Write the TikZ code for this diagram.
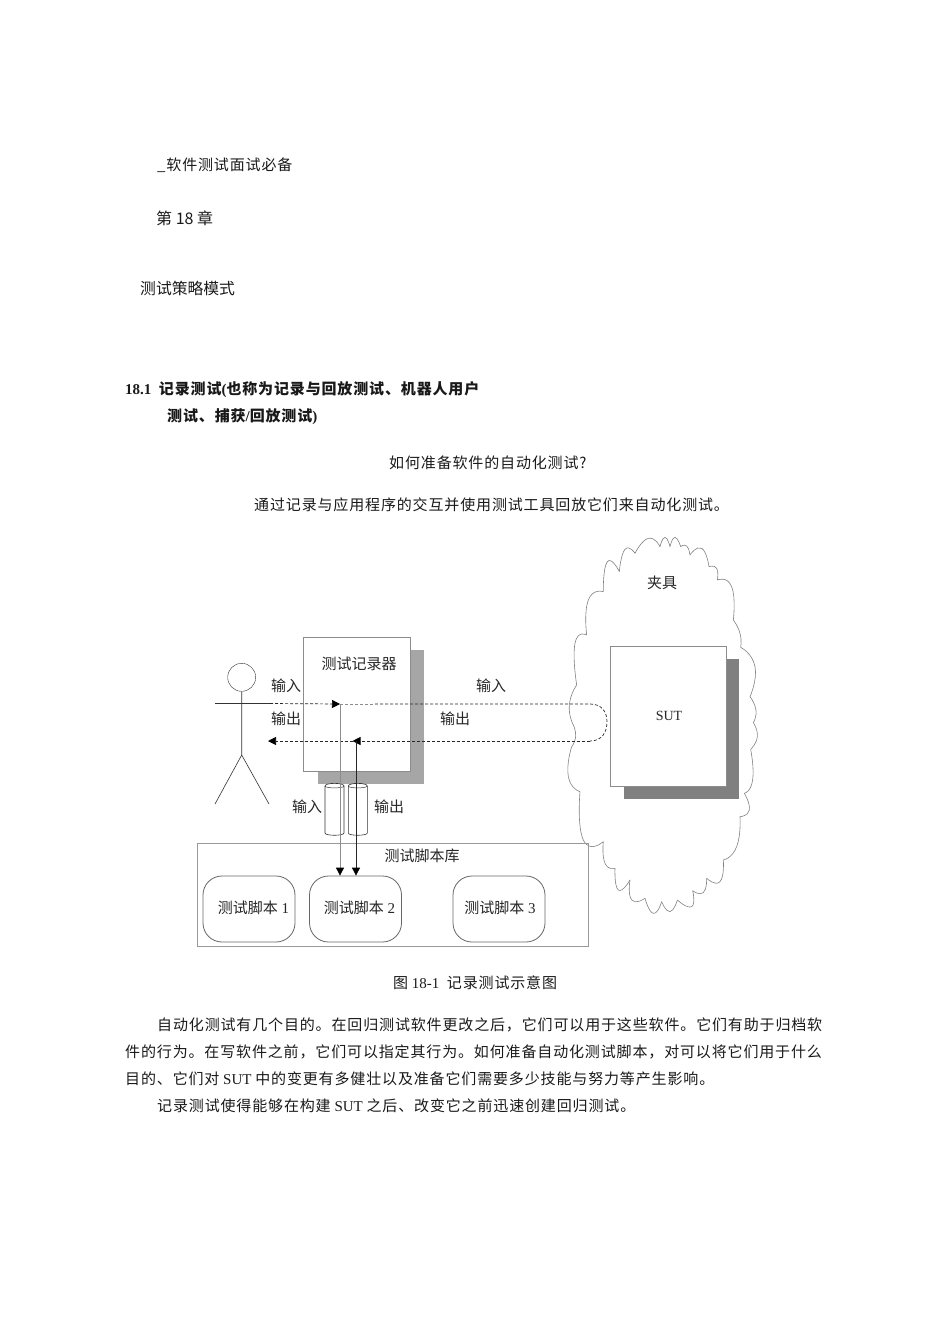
\documentclass[tikz,border=0pt]{standalone}
\usepackage{fontspec}
\setmainfont{Liberation Serif}
\newfontfamily\zhfont{Noto Sans CJK SC}
\newfontfamily\zhwide[LetterSpace=5.7]{Noto Sans CJK SC}
\usetikzlibrary{arrows.meta}
\tikzset{
  boxline/.style={draw=black!45,line width=.8pt},
  script/.style={boxline,draw=black!60,rounded corners=19pt,minimum width=92pt,minimum height=66pt},
  label/.style={inner sep=0pt,yshift=-.8pt,text=black!85,font=\fontsize{15}{15}\zhfont},
  body/.style={inner sep=0pt,yshift=-.8pt,anchor=west,text=black!90,font=\fontsize{15}{15}\selectfont},
  tip/.style={-{Triangle[length=8pt,width=8pt,black]}},
  flow/.style={dash pattern=on 3pt off 2pt,line width=.7pt,black!85}
}
\begin{document}
\begin{tikzpicture}[x=1pt,y=-1pt]
\useasboundingbox (0,0) rectangle (950,1323);
% page text
\node[body] (runhead) at (157,164) {\zhwide\_软件测试面试必备};
\node[body,font=\fontsize{16}{16}\zhfont] (chapter) at (156,218) {第 18 章};
\node[body,font=\fontsize{15.8}{16}\zhfont] (title) at (140,288) {测试策略模式};
\node[body,font=\fontsize{15}{15}\bfseries] (secone) at (125,388.5) {18.1\ \ {\zhwide 记录测试}({\zhwide 也称为记录与回放测试、机器人用户}};
\node[body,font=\fontsize{15}{15}\bfseries] (sectwo) at (167,416) {{\zhwide 测试、捕获}/{\zhwide 回放测试})};
\node[body] (question) at (389,462) {\zhwide 如何准备软件的自动化测试?};
\node[body] (answer) at (254,504) {\zhwide 通过记录与应用程序的交互并使用测试工具回放它们来自动化测试。};
\node[body] (caption) at (393,982) {{\zhwide 图} 18-1\ \ {\zhwide 记录测试示意图}};
\node[body] (paraone) at (157,1024) {\zhwide 自动化测试有几个目的。在回归测试软件更改之后，它们可以用于这些软件。它们有助于归档软};
\node[body] (paratwo) at (125,1051) {\zhwide 件的行为。在写软件之前，它们可以指定其行为。如何准备自动化测试脚本，对可以将它们用于什么};
\node[body] (parathree) at (125,1078) {{\zhwide 目的、它们对} SUT {\zhwide 中的变更有多健壮以及准备它们需要多少技能与努力等产生影响。}};
\node[body] (parafour) at (157,1105) {{\zhwide 记录测试使得能够在构建} SUT {\zhwide 之后、改变它之前迅速创建回归测试。}};
% cloud
\begin{scope}[shift={(560,530)},x=.3333pt,y=-.3333pt]
\foreach \ax/\ay/\mx/\my/\bx/\by in {130/185/142/95/178/125,178/125/195/58/225/70,225/70/265/25/300/50,
  300/50/315/22/330/50,330/50/345/22/362/50,362/50/380/48/390/75,390/75/425/55/447/110,447/110/470/115/472/150,
  472/150/515/170/520/270,520/270/540/310/542/352,542/352/585/410/570/500,570/500/588/540/580/578,
  580/578/592/620/572/658,572/658/578/750/553/790,553/790/568/840/540/860,540/860/530/950/490/990,
  490/990/480/1055/440/1045,440/1045/430/1088/398/1082,398/1082/395/1130/352/1110,352/1110/330/1145/305/1115,
  305/1115/280/1150/255/1105,255/1105/215/1110/210/1050,210/1050/175/1080/165/1015,165/1015/135/1000/130/935,
  130/935/70/930/60/785,60/785/25/740/35/650,35/650/47/620/40/585,40/585/28/525/50/465,
  50/465/45/340/80/315,80/315/85/210/130/185}{%
  \draw[black!50,line width=.6pt] plot[smooth,tension=1] coordinates {(\ax,\ay) (\mx,\my) (\bx,\by)};
}
\end{scope}
\node[label] (fixture) at (662,582) {夹具};
% shadows and boxes
\fill[black!35] (318,650) rectangle (424,784);
\fill[black!50] (624,659) rectangle (739,799);
\node[boxline,fill=white,minimum width=107.5pt,minimum height=133.5pt] (recorder) at (356.7,704.2) {};
\node[label] (recordername) at (359,663) {测试记录器};
\node[boxline,fill=white,minimum width=115.5pt,minimum height=140pt] (sut) at (668.2,716) {};
\node[inner sep=0pt,text=black!85,font=\fontsize{14}{14}\selectfont] (sutname) at (669,716) {SUT};
% repository and scripts
\node[boxline,draw=black!40,minimum width=390.5pt,minimum height=103pt] (repo) at (392.7,894.5) {};
\node[label] (repolabel) at (422,855) {测试脚本库};
\node[script] (scriptone) at (249,909) {};
\node[script] (scripttwo) at (355.5,909) {};
\node[script] (scriptthree) at (499,909) {};
\node[label,font=\fontsize{15}{15}\selectfont] at (253.5,907) {{\zhfont 测试脚本} 1};
\node[label,font=\fontsize{15}{15}\selectfont] at (359.5,907) {{\zhfont 测试脚本} 2};
\node[label,font=\fontsize{15}{15}\selectfont] at (500,907) {{\zhfont 测试脚本} 3};
% pipes
\foreach \px in {334.5,357.8}{%
  \draw[black!80,fill=white,line width=.6pt] (\px-9.5,786) -- (\px-9.5,833) .. controls (\px-9.5,836) and (\px+9.5,836) .. (\px+9.5,833) -- (\px+9.5,786)
    .. controls (\px+9.5,782.5) and (\px-9.5,782.5) .. cycle;
  \draw[black!80,line width=.5pt] (\px-9.5,786) .. controls (\px-9.5,788.5) and (\px+9.5,788.5) .. (\px+9.5,786);
}
% person
\node[draw=black!80,circle,minimum size=28pt,inner sep=0pt] (head) at (241.7,677.3) {};
\coordinate (hip) at (241.7,755);
\coordinate (armleft) at (215,703.5);
\coordinate (armright) at (270,703.5);
\coordinate (footleft) at (215,804);
\coordinate (footright) at (269,804);
\draw[black!80,line width=.6pt] (head) -- (hip) (footleft) -- (hip) -- (footright) (armleft) -- (armright);
% flows
\coordinate (intip) at (340,704);
\coordinate (infade) at (375,704);
\coordinate (inend) at (590,704);
\coordinate (outstart) at (590,741);
\coordinate (outtip) at (352.5,741);
\coordinate (outdrop) at (356,741);
\coordinate (outend) at (268,741);
\draw[flow,tip] (armright) -- (intip);
\draw[flow,black!45] (intip) -- (infade);
\draw[flow] (infade) -- (inend) .. controls (602,704) and (607,712) .. (607,722) .. controls (607,732) and (602,741) .. (outstart);
\draw[flow,tip] (outstart) -- (outtip);
\draw[flow,tip] (outtip) -- (outend);
\draw[black!45,line width=.8pt,tip] (intip) -- (intip |- scripttwo.north);
\draw[black!85,line width=.8pt,tip] (outdrop) -- (outdrop |- scripttwo.north);
% labels on the flows
\node[label] (inleft) at (286,685) {输入};
\node[label] (outleft) at (286,718) {输出};
\node[label] (inright) at (491,685) {输入};
\node[label] (outright) at (455,718) {输出};
\node[label] (inpipe) at (307,806) {输入};
\node[label] (outpipe) at (389,806) {输出};
\end{tikzpicture}
\end{document}
